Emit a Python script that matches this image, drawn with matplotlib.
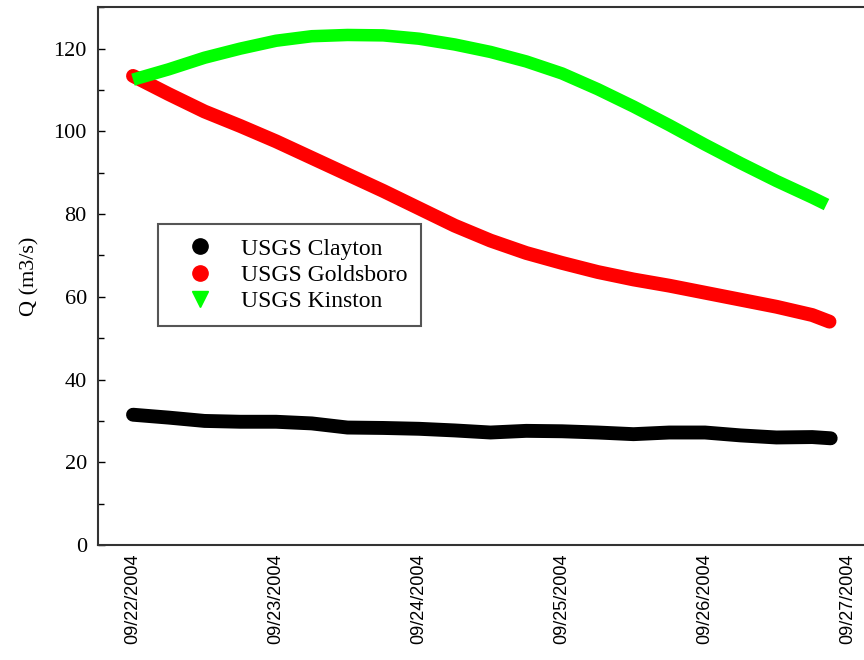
#! /usr/bin/env python3

import numpy as np
import pandas as pd
import matplotlib
matplotlib.use("Agg")
import matplotlib.pyplot as plt
import matplotlib.dates as mdates
from matplotlib.lines import Line2D

# hours after 09/22/2004 00:00
hours = [0, 6, 12, 18, 24, 30, 36, 42, 48, 54, 60, 66,
         72, 78, 84, 90, 96, 102, 108, 114]

clayton = [31.5, 30.8, 30.0, 29.8, 29.8, 29.4, 28.4, 28.3, 28.1, 27.7,
           27.2, 27.6, 27.5, 27.2, 26.8, 27.2, 27.2, 26.5, 26.0, 26.1]
goldsboro = [113.4, 109.0, 104.8, 101.3, 97.6, 93.6, 89.6, 85.6, 81.4, 77.2,
             73.6, 70.6, 68.2, 66.0, 64.2, 62.7, 61.0, 59.3, 57.6, 55.6]
kinston = [112.5, 115.0, 117.8, 120.0, 121.9, 123.0, 123.3, 123.2, 122.4, 121.0,
           119.2, 116.9, 114.0, 110.2, 106.0, 101.5, 96.8, 92.3, 88.0, 84.0]

# last readings of each gauge
end_hour = {"clayton": 117.1, "goldsboro": 116.9, "kinston": 116.4}
end_value = {"clayton": 25.8, "goldsboro": 54.0, "kinston": 82.3}

start = pd.Timestamp("2004-09-22")


def times(extra):
    return start + pd.to_timedelta(hours + [extra], unit="h")


fig = plt.figure(figsize=(8.64, 6.6), dpi=100)
ax = fig.add_axes([0.1134, 0.1742, 0.8889, 0.8148])

ax.plot(times(end_hour["clayton"]), clayton + [end_value["clayton"]],
        color="black", lw=10, solid_capstyle="round", solid_joinstyle="round")
ax.plot(times(end_hour["goldsboro"]), goldsboro + [end_value["goldsboro"]],
        color="#ff0000", lw=10, solid_capstyle="round", solid_joinstyle="round")
ax.plot(times(end_hour["kinston"]), kinston + [end_value["kinston"]],
        color="#00ff00", lw=9, solid_capstyle="butt", solid_joinstyle="round")

ax.set_xlim(start - pd.Timedelta(days=0.245), start + pd.Timedelta(days=5.126))
ax.set_ylim(0, 130)

ax.xaxis.set_major_locator(mdates.DayLocator())
ax.xaxis.set_major_formatter(mdates.DateFormatter("%m/%d/%Y"))
ax.tick_params(axis="x", length=0, pad=6, labelsize=13, labelrotation=90)
for lab in ax.get_xticklabels():
    lab.set_fontfamily("Liberation Sans")

ax.set_yticks(np.arange(0, 121, 20))
ax.set_yticks(np.arange(10, 131, 20), minor=True)
ax.tick_params(axis="y", which="major", direction="in", length=5, width=1, pad=8, labelsize=16)
ax.tick_params(axis="y", which="minor", direction="in", length=4, width=1)
for lab in ax.get_yticklabels():
    lab.set_fontfamily("Liberation Serif")

ax.set_ylabel("Q (m3/s)", fontfamily="Liberation Serif", fontsize=16, labelpad=10)

for s in ax.spines.values():
    s.set_linewidth(1.5)
    s.set_color("#333333")

handles = [
    Line2D([], [], ls="none", marker="o", ms=11, color="black"),
    Line2D([], [], ls="none", marker="o", ms=11, color="#ff0000"),
    Line2D([], [], ls="none", marker="v", ms=11, color="#00ff00"),
]
labels = ["USGS Clayton", "USGS Goldsboro", "USGS Kinston"]
leg = ax.legend(handles, labels, loc="upper left", bbox_to_anchor=(0.078, 0.597),
                borderaxespad=0, frameon=True, fancybox=False, framealpha=1,
                edgecolor="#555555", handlelength=2.4, handletextpad=0.5,
                borderpad=0.6, labelspacing=0.2,
                prop={"family": "Liberation Serif", "size": 17})
leg.get_frame().set_linewidth(1.5)

fig.savefig("out.png", dpi=100)
